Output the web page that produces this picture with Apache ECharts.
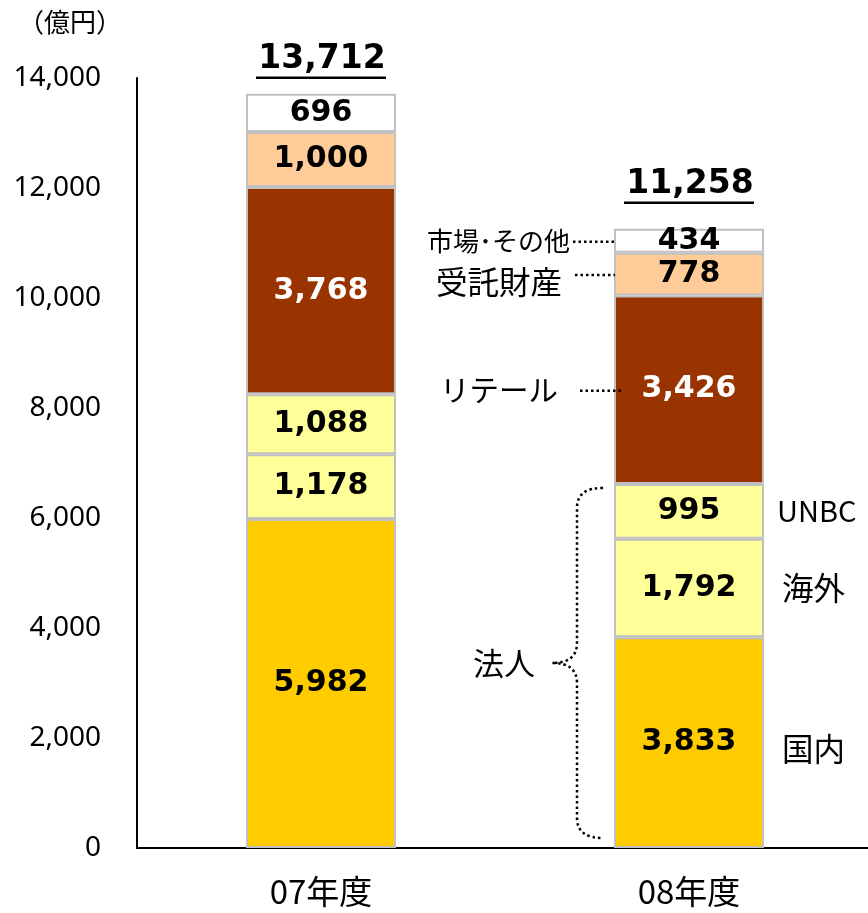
<!DOCTYPE html>
<html><head><meta charset="utf-8">
<script src="https://cdn.jsdelivr.net/npm/echarts@6/dist/echarts.min.js"></script>
<style>html,body{margin:0;padding:0;background:#fff;overflow:hidden}#c{width:874px;height:913px}</style>
</head><body><div id="c"></div>
<script>
const categories = ['07年度', '08年度'];
const seriesNames = ['国内', '海外', 'UNBC', 'リテール', '受託財産', '市場・その他'];
const domestic = [5982, 3833];
const overseas = [1178, 1792];
const unbc = [1088, 995];
const retail = [3768, 3426];
const trust = [1000, 778];
const markets = [696, 434];
const totals = [13712, 11258];
const yTicks = [0, 2000, 4000, 6000, 8000, 10000, 12000, 14000];
const leftNotes = ['リテール', '受託財産', '市場･その他'];   // series 3,4,5 on 08年度
const rightNotes = ['国内', '海外', 'UNBC'];              // series 0,1,2 on 08年度
const groupNote = '法人';
const unitLabel = '（億円）';

const values = [domestic, overseas, unbc, retail, trust, markets];
const colors = ['#FFCC00', '#FFFF99', '#FFFF99', '#993300', '#FFCC99', '#FFFFFF'];
const fmt = v => v.toString().replace(/\B(?=(\d{3})+(?!\d))/g, ',');
const JP = '"Noto Sans CJK JP", sans-serif';

const barSeries = values.map((arr, i) => ({
  name: seriesNames[i], type: 'bar', stack: 'total', barWidth: 150,
  data: arr,
  itemStyle: { color: colors[i], borderColor: '#C0C0C0', borderWidth: 2 },
  label: { show: true, position: 'inside', formatter: p => fmt(p.value),
    fontFamily: '"DejaVu Sans", sans-serif', fontWeight: 'bold', fontSize: 30,
    color: i === 3 ? '#FFFFFF' : '#000000' },
  emphasis: { disabled: true }, animation: false
}));

const totalGap = [16, 26];
const totalSeries = {
  type: 'custom', data: totals.map((t, i) => [i, t]), encode: { x: 0, y: 1 },
  animation: false, silent: true,
  renderItem: (params, api) => {
    const p = api.coord([api.value(0), api.value(1)]);
    const g = totalGap[params.dataIndex];
    const txt = fmt(api.value(1));
    return { type: 'group', children: [
      { type: 'text', style: { text: txt, x: p[0] + 1, y: p[1] - g - 2, align: 'center', verticalAlign: 'bottom',
        fontFamily: '"DejaVu Sans", sans-serif', fontWeight: 'bold', fontSize: 33, fill: '#000' } },
      { type: 'line', shape: { x1: p[0] - 65, y1: p[1] - g, x2: p[0] + 65, y2: p[1] - g },
        style: { stroke: '#000', lineWidth: 2.5 } }
    ]};
  }
};

const noteSeries = {
  type: 'custom', data: [[1, 0]], encode: { x: 0, y: 1 }, animation: false, silent: true, z: 5,
  renderItem: (params, api) => {
    const ci = api.value(0);
    const cum = []; let s = 0;
    values.forEach((arr, i) => { cum.push([s, s + arr[ci]]); s += arr[ci]; });
    const xc = api.coord([ci, 0])[0];
    const yOf = v => api.coord([ci, v])[1];
    const mid = i => yOf((cum[i][0] + cum[i][1]) / 2);
    const dash = { stroke: '#000', lineWidth: 2.5, lineDash: [2.5, 3], fill: null };
    const ch = [];
    const txt = (text, x, y, align, size) => ({ type: 'text', style: { text, x, y, align, verticalAlign: 'middle',
      fontFamily: JP, fontSize: size, fill: '#000' } });
    const leftCfg = [
      { si: 3, tx: -131, l1: -109, l2: -68, dy: 0, size: 29.5 },
      { si: 4, tx: -127, l1: -114, l2: -74, dy: 8, size: 31.5 },
      { si: 5, tx: -119, l1: -116, l2: -74, dy: 0, size: 26 }
    ];
    leftCfg.forEach((c, k) => {
      const y = mid(c.si);
      ch.push(txt(leftNotes[k], xc + c.tx, y + c.dy, 'right', c.size));
      ch.push({ type: 'line', shape: { x1: xc + c.l1, y1: y + 1, x2: xc + c.l2, y2: y + 1 }, style: dash });
    });
    [0, 1, 2].forEach(k => {
      const y = mid(k);
      ch.push(txt(rightNotes[k], xc + (k === 2 ? 88 : 93), y + (k === 0 ? 6 : 0), 'left', k === 2 ? 29 : 31.5));
    });
    const yTop = yOf(cum[2][1]) + 4, yBot = yOf(0) - 10, yMid = (yTop + yBot) / 2;
    const xe = xc - 86, xv = xc - 112, xt = xc - 137;
    const d = `M${xe} ${yTop} Q${xv} ${yTop} ${xv} ${yTop + 20} L${xv} ${yMid - 20} Q${xv} ${yMid} ${xt} ${yMid} ` +
              `Q${xv} ${yMid} ${xv} ${yMid + 20} L${xv} ${yBot - 20} Q${xv} ${yBot} ${xe} ${yBot}`;
    ch.push({ type: 'path', shape: { pathData: d }, style: dash });
    ch.push(txt(groupNote, xc - 154, yMid, 'right', 31));
    return { type: 'group', children: ch };
  }
};

const chart = echarts.init(document.getElementById('c'), null, { renderer: 'canvas' });
chart.setOption({
  animation: false,
  grid: { left: 137, right: 1, top: 78, bottom: 65, containLabel: false },
  xAxis: { type: 'category', data: categories,
    axisLine: { lineStyle: { color: '#000', width: 2 } }, axisTick: { show: false },
    axisLabel: { fontFamily: JP, fontSize: 33, color: '#000', margin: 27 } },
  yAxis: { type: 'value', min: yTicks[0], max: yTicks[yTicks.length - 1], interval: 2000,
    axisLine: { show: true, lineStyle: { color: '#000', width: 2 } }, axisTick: { show: false },
    splitLine: { show: false },
    axisLabel: { fontFamily: '"Noto Sans", sans-serif', fontSize: 28, color: '#000', margin: 36,
      formatter: v => fmt(v) } },
  graphic: [{ type: 'text', left: 18, top: 9, style: { text: unitLabel, fontFamily: JP, fontSize: 26, fill: '#000' } }],
  series: [...barSeries, totalSeries, noteSeries]
});
</script></body></html>
